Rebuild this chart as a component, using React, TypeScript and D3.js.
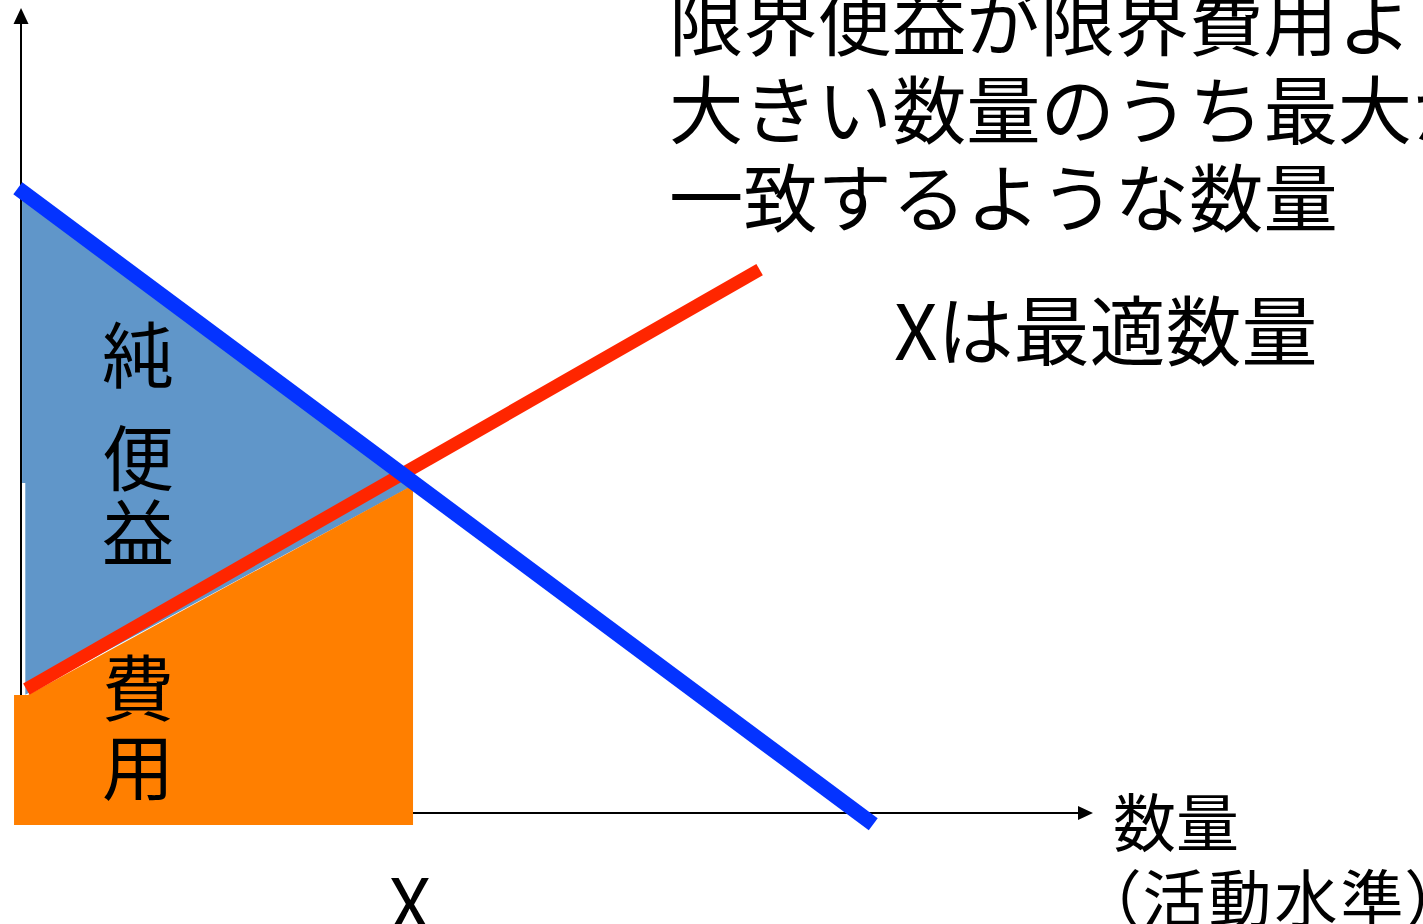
import React, { useEffect, useRef } from 'react';
import * as d3 from 'd3';

// values (quantity on x, price on y, both 0..10)
const marginalBenefit: [number, number][] = [[-0.03, 7.76], [7.95, -0.14]];
const marginalCost: [number, number][] = [[0.05, 1.54], [6.89, 6.75]];
const netBenefitTop: [number, number][] = [[0.01, 7.75], [3.67, 4.10], [0.01, 4.10]];
const netBenefitBottom: [number, number][] = [[0.04, 4.10], [3.66, 4.10], [3.66, 4.07], [0.04, 1.47]];
const costArea: [number, number][] = [[-0.065, 1.466], [0.065, 1.466], [3.657, 4.075], [3.657, -0.149], [-0.065, -0.149]];
const optimumQ = 3.62;

const noteLines = ['限界便益が限界費用より', '大きい数量のうち最大か', '一致するような数量'];
const benefitChars = ['純', '便', '益'];
const costChars = ['費', '用'];
const optimumNote = 'Xは最適数量';
const xAxisLabel = ['数量', '（活動水準）'];

const FONT = '"Noto Sans CJK JP", "Noto Sans CJK SC", sans-serif';

const App: React.FC = () => {
    const svgRef = useRef(null);

    const width = 1423;
    const height = 924;

    useEffect(() => {
        document.body.style.margin = '0';

        const svg = d3.select(svgRef.current);
        svg.selectAll("*").remove();

        const xScale = d3.scaleLinear().domain([0, 10]).range([21, 1093]);
        const yScale = d3.scaleLinear().domain([0, 10]).range([813, 8]);

        const line = d3.line<[number, number]>()
            .x(d => xScale(d[0]))
            .y(d => yScale(d[1]));

        // axes (drawn first, the areas sit on top)
        const axisColor = '#000';
        svg.append("line")
            .attr("x1", xScale(0)).attr("y1", yScale(0))
            .attr("x2", xScale(0)).attr("y2", yScale(10) + 15)
            .attr("stroke", axisColor).attr("stroke-width", 2);
        svg.append("path")
            .attr("d", `M${xScale(0)},${yScale(10)} l-7.5,16 l15,0 z`)
            .attr("fill", axisColor);
        svg.append("line")
            .attr("x1", xScale(0)).attr("y1", yScale(0))
            .attr("x2", xScale(10) - 14).attr("y2", yScale(0))
            .attr("stroke", axisColor).attr("stroke-width", 2);
        svg.append("path")
            .attr("d", `M${xScale(10)},${yScale(0)} l-15,-7 l0,14 z`)
            .attr("fill", axisColor);

        // areas
        const blue = '#6096c9';
        svg.append("path").attr("d", line(netBenefitTop) + 'Z').attr("fill", blue);
        svg.append("path").attr("d", line(netBenefitBottom) + 'Z').attr("fill", blue);
        svg.append("path").attr("d", line(costArea) + 'Z').attr("fill", '#ff7f00');

        // marginal benefit / marginal cost
        svg.append("path").attr("d", line(marginalCost))
            .attr("stroke", '#ff2600').attr("stroke-width", 13).attr("fill", "none");
        svg.append("path").attr("d", line(marginalBenefit))
            .attr("stroke", '#0433ff').attr("stroke-width", 15).attr("fill", "none");

        // texts: baseline = glyph centre + 0.38em
        const addText = (t: string, x: number, cy: number, size: number, anchor = 'start') =>
            svg.append("text")
                .attr("x", x).attr("y", cy + size * 0.38)
                .attr("font-family", FONT).attr("font-size", size)
                .attr("text-anchor", anchor).attr("fill", '#000')
                .text(t);

        noteLines.forEach((t, i) => addText(t, 669, 22 + i * 88, 74.3));

        addText(optimumNote, 894, 331, 76);

        const benefitY = [355, 458, 533];
        benefitChars.forEach((c, i) => addText(c, 138, benefitY[i], 72, 'middle'));
        const costY = [688, 767];
        costChars.forEach((c, i) => addText(c, 138, costY[i], 72, 'middle'));

        addText(xAxisLabel[0], 1113, 822, 63);
        addText(xAxisLabel[1], 1108, 898, 63)
            .style("font-feature-settings", '"palt"')
            .attr("letter-spacing", 3);

        addText('X', xScale(optimumQ) + 1, 904, 74, 'middle');
    }, []);

    return (
        <div>
            <svg ref={svgRef} width={width} height={height} style={{ display: 'block', backgroundColor: 'white' }}></svg>
        </div>
    );
};

export default App;
